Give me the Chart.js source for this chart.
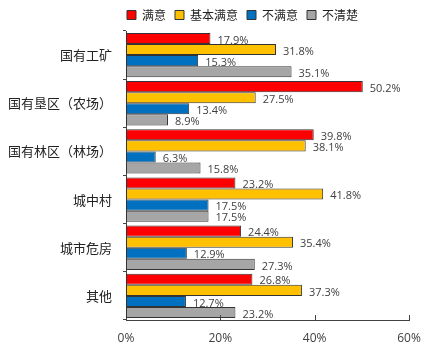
<!DOCTYPE html>
<html>
<head>
<meta charset="utf-8">
<script src="https://cdn.jsdelivr.net/npm/chart.js@4"></script>
<style>
  html, body { margin: 0; padding: 0; background: #fff; }
  #wrap { width: 437px; height: 355px; position: relative; }
</style>
</head>
<body>
<div id="wrap"><canvas id="barChart"></canvas></div>
<script>
// ── Données ──
const categories = ['国有工矿', '国有垦区（农场）', '国有林区（林场）', '城中村', '城市危房', '其他'];
const seriesNames = ['满意', '基本满意', '不满意', '不清楚'];
const manyi      = [17.9, 50.2, 39.8, 23.2, 24.4, 26.8];
const jibenManyi = [31.8, 27.5, 38.1, 41.8, 35.4, 37.3];
const buManyi    = [15.3, 13.4, 6.3, 17.5, 12.9, 12.7];
const buQingchu  = [35.1, 8.9, 15.8, 17.5, 27.3, 23.2];
const xTicks = [0, 20, 40, 60];

const colors = ['#ff0000', '#ffc000', '#0070c0', '#a6a6a6'];
const CJK = "'Noto Sans CJK SC', 'Noto Sans', sans-serif";

// étiquettes de valeur à droite des barres
const valueLabels = {
  id: 'valueLabels',
  afterDatasetsDraw(chart) {
    const ctx = chart.ctx;
    ctx.save();
    ctx.font = "11px 'Open Sans', sans-serif";
    ctx.fillStyle = '#404040';
    ctx.textBaseline = 'middle';
    ctx.textAlign = 'left';
    chart.data.datasets.forEach((ds, i) => {
      chart.getDatasetMeta(i).data.forEach((bar, j) => {
        ctx.fillText(ds.data[j].toFixed(1) + '%', bar.x + 7, bar.y + 2);
      });
    });
    ctx.restore();
  }
};

// petites graduations vers le haut sur l'axe X
const xTickMarks = {
  id: 'xTickMarks',
  afterDraw(chart) {
    const x = chart.scales.x, ctx = chart.ctx;
    ctx.save();
    ctx.strokeStyle = '#444';
    ctx.lineWidth = 1;
    xTicks.slice(1).forEach(v => {
      const px = Math.round(x.getPixelForValue(v)) + 0.5;
      ctx.beginPath();
      ctx.moveTo(px, x.top);
      ctx.lineTo(px, x.top - 5);
      ctx.stroke();
    });
    ctx.restore();
  }
};

// décaler la légende vers la droite (centrée sur le graphique comme l'original)
const legendShift = {
  id: 'legendShift',
  afterLayout(chart) {
    chart.legend.left += 38;
    chart.legend.right += 38;
  }
};

const data = [manyi, jibenManyi, buManyi, buQingchu];

new Chart(document.getElementById('barChart'), {
  type: 'bar',
  data: {
    labels: categories,
    datasets: seriesNames.map((n, i) => ({
      label: n,
      data: data[i],
      backgroundColor: colors[i],
      borderColor: '#333',
      borderWidth: 1,
      borderSkipped: false,
      categoryPercentage: 0.92,
      barPercentage: 1.0
    }))
  },
  options: {
    indexAxis: 'y',
    responsive: true,
    maintainAspectRatio: false,
    animation: false,
    layout: { padding: { left: 0, right: 28, top: 0, bottom: 0 } },
    plugins: {
      legend: {
        position: 'top',
        labels: {
          boxWidth: 9, boxHeight: 9, padding: 9,
          color: '#222',
          font: { size: 12, family: CJK }
        }
      },
      tooltip: { enabled: false }
    },
    scales: {
      x: {
        min: 0, max: 60,
        afterBuildTicks: s => { s.ticks = xTicks.map(v => ({ value: v })); },
        afterFit: s => { s.height = 35; },
        ticks: {
          callback: v => v + '%',
          color: '#404040',
          font: { size: 12, family: "'Open Sans', sans-serif" },
          maxRotation: 0,
          padding: 3
        },
        grid: { display: false },
        border: { display: true, color: '#444' }
      },
      y: {
        afterFit: s => { s.width = 126; },
        ticks: {
          color: '#222',
          font: { size: 13, family: CJK },
          padding: 11
        },
        grid: { drawOnChartArea: false, tickLength: 3, color: '#444', offset: true },
        border: { display: true, color: '#444' }
      }
    }
  },
  plugins: [valueLabels, xTickMarks, legendShift]
});
</script>
</body>
</html>
